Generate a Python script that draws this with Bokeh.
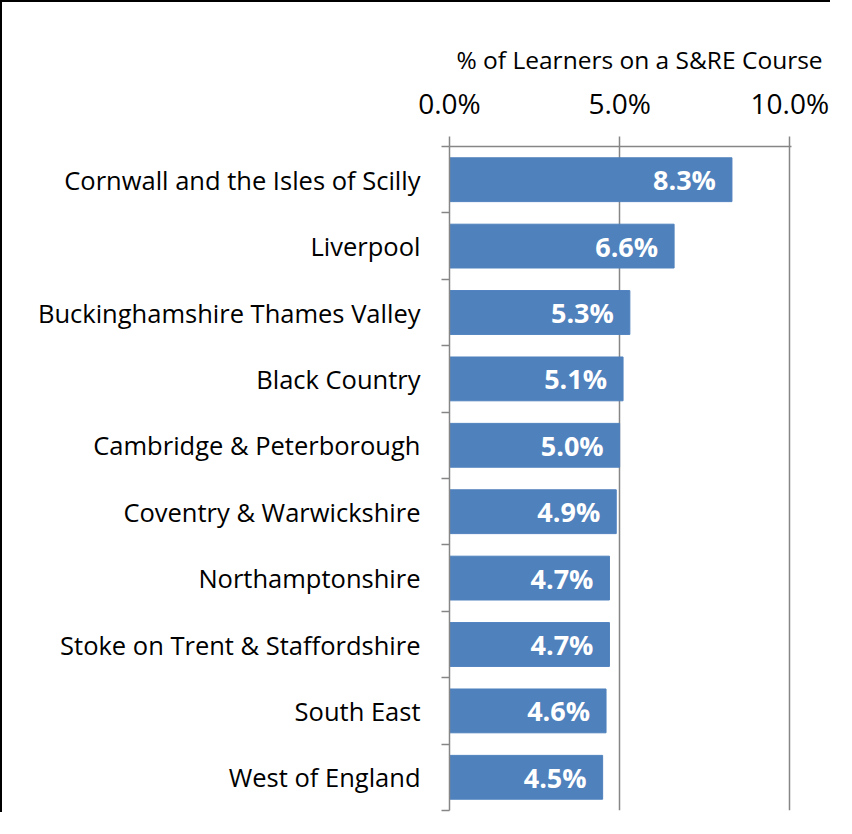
from bokeh.plotting import figure
from bokeh.models import Range1d, FixedTicker, ColumnDataSource, LabelSet
from bokeh.core.properties import value
from bokeh.embed import file_html
from bokeh.resources import INLINE

regions = [
    "Cornwall and the Isles of Scilly",
    "Liverpool",
    "Buckinghamshire Thames Valley",
    "Black Country",
    "Cambridge & Peterborough",
    "Coventry & Warwickshire",
    "Northamptonshire",
    "Stoke on Trent & Staffordshire",
    "South East",
    "West of England",
]
values = [8.3, 6.6, 5.3, 5.1, 5.0, 4.9, 4.7, 4.7, 4.6, 4.5]
value_labels = ["8.3%", "6.6%", "5.3%", "5.1%", "5.0%", "4.9%", "4.7%", "4.7%", "4.6%", "4.5%"]
x_ticks = [0, 5, 10]
x_tick_labels = ["0.0%", "5.0%", "10.0%"]
axis_title = "% of Learners on a S&RE Course"

FONT = "Open Sans"
n = len(regions)
ypos = list(range(n))
src = ColumnDataSource(dict(y=ypos, v=values, lab=value_labels))

p = figure(width=830, height=812, output_backend="svg", toolbar_location=None,
           x_range=Range1d(0, 10.05), y_range=Range1d(n - 0.5, -0.5),
           x_axis_location="above",
           min_border_left=447, min_border_right=41, min_border_top=144, min_border_bottom=4)
p.outline_line_color = None
p.background_fill_color = "white"
p.border_fill_color = "white"
p.styles = {"border-left": "2px solid black", "border-top": "2px solid black"}

p.hbar(y="y", right="v", left=0, height=0.66, color="#4F81BD", source=src)
p.add_layout(LabelSet(x="v", y="y", text="lab", source=src, text_align="right",
                      text_baseline="middle", x_offset=-16, text_color="white",
                      text_font_style="bold", text_font_size="27px", text_font=value(FONT)))

p.title.text = axis_title
p.title.align = "left"
p.title.offset = 7
p.title.text_font = FONT
p.title.text_font_size = "24.5px"
p.title.text_font_style = "normal"
p.title.text_color = "black"

xa = p.xaxis[0]
xa.ticker = FixedTicker(ticks=x_ticks)
xa.major_label_overrides = {t: l for t, l in zip(x_ticks, x_tick_labels)}
xa.major_label_text_font = FONT
xa.major_label_text_font_size = "28px"
xa.major_label_text_color = "black"
xa.major_tick_out = 10
xa.major_tick_in = 0
xa.minor_tick_line_color = None
xa.major_tick_line_color = "#868686"
xa.major_tick_line_width = 1.5
xa.axis_line_color = "#868686"
xa.axis_line_width = 1.5
xa.major_label_standoff = 15

ya = p.yaxis[0]
ya.ticker = FixedTicker(ticks=ypos, minor_ticks=[i - 0.5 for i in range(n + 1)])
ya.major_label_overrides = {i: r for i, r in enumerate(regions)}
ya.major_label_text_font = FONT
ya.major_label_text_font_size = "25.5px"
ya.major_label_text_color = "black"
ya.major_tick_line_color = None
ya.major_tick_out = 0
ya.major_tick_in = 0
ya.minor_tick_line_color = "#868686"
ya.minor_tick_line_width = 1.5
ya.minor_tick_out = 8
ya.minor_tick_in = 0
ya.axis_line_color = "#868686"
ya.axis_line_width = 1.5
ya.major_label_standoff = 21

p.xgrid.ticker = FixedTicker(ticks=x_ticks)
p.xgrid.grid_line_color = "#868686"
p.xgrid.grid_line_width = 1.5
p.ygrid.visible = False

open("out.html", "w").write(file_html(p, INLINE))
